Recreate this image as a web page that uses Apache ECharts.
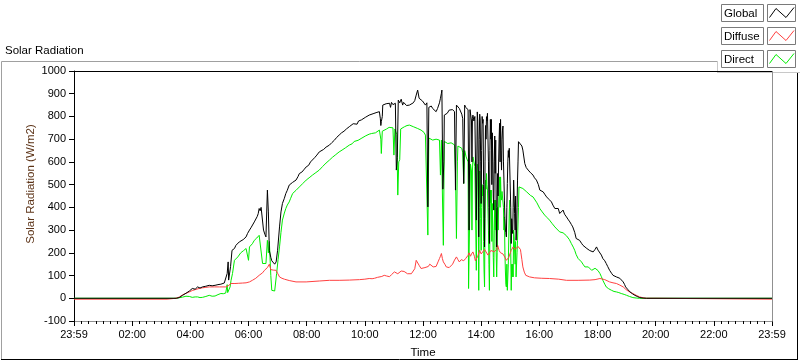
<!DOCTYPE html>
<html><head><meta charset="utf-8">
<script src="https://cdn.jsdelivr.net/npm/echarts@6/dist/echarts.min.js"></script>
<style>html,body{margin:0;padding:0;background:#fff}#c{width:800px;height:361px}</style>
</head><body><div id="c"></div><script>
// minutes since 00:00 ; axis runs 23:59 (prev day) .. 23:59
const xTickLabels = ['23:59','02:00','04:00','06:00','08:00','10:00','12:00','14:00','16:00','18:00','20:00','22:00','23:59'];
const seriesNames = ['Global','Diffuse','Direct'];
const globalData = [[0,0],[211,0],[217,3],[224,13],[228,20],[231,22],[235,30],[238,32],[241,38],[244,43],[247,38],[250,40],[253,48],[255,50],[258,44],[260,45],[263,52],[265,50],[268,55],[272,53],[276,58],[279,57],[285,55],[291,57],[297,60],[303,62],[307,64],[310,67],[314,70],[316,109],[318,160],[319,80],[321,75],[323,140],[326,211],[329,205],[331,219],[334,233],[337,228],[341,248],[345,245],[349,258],[352,255],[355,270],[358,285],[362,300],[365,310],[368,318],[372,336],[375,340],[378,360],[380,372],[382,395],[384,385],[386,400],[389,402],[391,300],[394,280],[396,270],[399,476],[401,380],[403,211],[406,180],[408,165],[411,160],[414,150],[417,160],[420,211],[424,314],[427,380],[430,417],[434,440],[437,461],[440,475],[444,498],[447,495],[451,510],[454,512],[458,520],[462,535],[465,549],[470,555],[474,565],[479,578],[484,585],[488,600],[492,608],[497,620],[501,630],[506,644],[510,648],[515,655],[520,665],[527,674],[532,685],[537,695],[542,708],[547,718],[552,728],[557,735],[562,745],[568,755],[572,758],[576,768],[580,770],[584,766],[587,780],[589,777],[593,785],[597,788],[601,796],[605,800],[609,806],[613,802],[617,812],[621,810],[625,818],[628,815],[630,821],[632,790],[633,760],[634,777],[636,800],[637,850],[640,842],[644,856],[647,850],[651,858],[653,840],[655,862],[658,852],[660,850],[663,858],[665,564],[667,620],[669,872],[672,860],[675,876],[678,850],[680,862],[682,860],[686,848],[689,855],[692,850],[696,858],[700,860],[703,870],[706,894],[709,916],[712,880],[714,885],[716,872],[719,868],[722,866],[725,850],[728,860],[730,402],[732,840],[735,845],[737,846],[740,835],[744,830],[747,821],[750,835],[754,860],[756,880],[758,902],[759,916],[761,480],[763,600],[764,806],[767,810],[770,814],[774,828],[778,824],[781,830],[785,821],[787,476],[789,850],[792,845],[795,835],[798,830],[800,810],[802,790],[804,505],[806,850],[808,840],[810,845],[813,830],[815,300],[817,830],[820,780],[821,600],[822,790],[823,806],[825,780],[827,800],[830,344],[832,820],[833,780],[834,600],[835,270],[836,700],[837,810],[838,784],[839,600],[840,417],[841,650],[842,800],[843,770],[844,787],[845,500],[846,350],[847,226],[848,600],[849,760],[850,700],[851,799],[852,780],[853,814],[854,810],[855,600],[856,400],[857,241],[858,650],[859,787],[860,700],[861,787],[862,500],[863,728],[864,600],[865,450],[866,388],[867,600],[868,714],[869,550],[870,696],[871,400],[872,226],[873,400],[874,549],[875,450],[876,600],[877,700],[878,770],[879,600],[880,787],[881,650],[882,564],[883,700],[884,740],[885,758],[886,600],[887,520],[888,432],[889,350],[890,300],[891,289],[892,270],[893,400],[894,505],[895,600],[896,650],[897,620],[898,660],[899,652],[900,667],[901,400],[902,241],[903,350],[904,300],[905,285],[906,400],[907,520],[908,450],[909,373],[910,300],[911,450],[912,255],[913,300],[914,400],[915,520],[916,600],[917,689],[918,689],[921,690],[924,670],[926,652],[930,593],[933,575],[937,564],[942,552],[947,542],[950,530],[954,520],[958,500],[961,476],[965,472],[968,468],[972,455],[975,446],[980,435],[985,424],[988,410],[992,395],[996,398],[999,395],[1002,373],[1005,380],[1009,388],[1012,370],[1016,358],[1020,345],[1023,336],[1026,325],[1029,314],[1033,290],[1036,263],[1040,260],[1043,255],[1047,242],[1050,233],[1054,225],[1058,219],[1061,214],[1064,210],[1068,206],[1071,204],[1075,215],[1078,226],[1081,212],[1085,204],[1088,190],[1091,175],[1095,165],[1098,153],[1101,140],[1105,123],[1109,110],[1112,101],[1116,96],[1119,94],[1123,92],[1126,88],[1130,80],[1133,72],[1136,60],[1138,50],[1142,40],[1147,28],[1152,20],[1157,13],[1162,8],[1167,3],[1174,1],[1181,0],[1440,0]];
const diffuseData = [[0,-4],[192,-4],[193,0],[210,0],[217,5],[224,15],[231,22],[238,28],[244,34],[250,38],[258,43],[265,46],[272,48],[279,50],[290,50],[300,50],[313,50],[318,55],[324,65],[332,65],[340,66],[348,67],[355,68],[362,72],[368,79],[375,88],[382,101],[389,112],[393,123],[399,135],[403,150],[406,126],[411,124],[417,123],[420,110],[424,94],[429,88],[434,84],[444,78],[458,72],[479,72],[506,76],[527,79],[547,79],[568,80],[589,82],[600,84],[609,87],[615,86],[620,88],[626,92],[630,90],[635,96],[640,101],[645,98],[651,95],[655,104],[658,112],[661,116],[664,110],[668,108],[672,114],[675,120],[678,126],[681,118],[685,110],[688,108],[692,105],[696,108],[700,105],[703,130],[706,167],[709,160],[712,145],[716,131],[720,128],[724,135],[727,130],[731,140],[734,150],[737,145],[741,138],[744,146],[747,140],[751,160],[754,175],[756,185],[758,197],[760,175],[762,160],[765,150],[768,138],[771,132],[774,135],[778,140],[781,150],[785,168],[789,182],[792,170],[795,160],[799,170],[804,165],[808,175],[813,189],[815,200],[818,185],[820,195],[823,204],[826,185],[828,165],[830,160],[833,185],[837,211],[840,195],[844,200],[847,215],[851,211],[854,190],[857,200],[860,210],[864,215],[867,205],[870,200],[872,215],[874,233],[877,210],[880,200],[883,205],[885,195],[889,180],[892,167],[895,175],[897,180],[900,200],[902,211],[904,205],[906,226],[910,215],[913,220],[916,228],[919,233],[921,215],[922,200],[924,170],[926,138],[929,115],[932,101],[936,96],[940,94],[950,90],[965,88],[981,87],[1000,84],[1016,79],[1040,79],[1064,80],[1075,82],[1085,87],[1095,82],[1105,72],[1112,68],[1119,65],[1126,58],[1133,50],[1138,40],[1143,32],[1148,26],[1153,21],[1160,13],[1167,6],[1174,2],[1181,0],[1200,0],[1201,-4],[1440,-4]];
const directData = [[0,0],[211,0],[224,5],[231,9],[238,8],[244,4],[250,6],[255,6],[260,3],[265,4],[272,8],[279,13],[285,9],[291,10],[297,16],[303,21],[308,20],[313,23],[316,60],[317,25],[320,20],[322,50],[324,79],[327,109],[331,167],[334,175],[338,182],[341,190],[344,200],[350,210],[355,219],[358,212],[360,167],[362,226],[365,232],[368,240],[372,255],[377,265],[382,277],[386,285],[389,153],[393,150],[396,153],[399,255],[401,200],[403,250],[406,100],[408,35],[411,35],[414,32],[417,35],[418,109],[421,170],[424,226],[427,290],[430,344],[434,375],[437,395],[440,410],[444,424],[447,440],[451,461],[454,468],[458,475],[462,483],[465,490],[472,505],[479,520],[485,530],[492,542],[499,553],[506,564],[513,580],[520,595],[527,608],[533,620],[540,632],[547,644],[553,652],[560,662],[568,674],[574,680],[578,690],[582,686],[586,695],[589,696],[594,705],[598,708],[602,715],[606,712],[609,722],[614,725],[618,730],[622,728],[626,735],[630,740],[633,700],[634,637],[636,735],[640,740],[645,745],[650,752],[654,755],[658,750],[660,630],[662,745],[666,720],[668,454],[670,600],[672,610],[674,745],[678,750],[682,755],[687,760],[692,762],[696,758],[700,755],[704,752],[709,747],[712,745],[716,740],[719,735],[722,730],[725,718],[727,711],[730,278],[732,705],[736,700],[740,696],[744,702],[747,700],[751,698],[754,696],[756,542],[758,696],[760,690],[762,233],[764,690],[767,685],[771,681],[775,686],[778,684],[782,678],[785,675],[787,560],[789,263],[791,600],[792,670],[796,665],[800,660],[802,640],[804,505],[806,650],[809,622],[811,630],[813,600],[814,43],[816,50],[818,590],[820,560],[821,300],[822,560],[823,622],[825,600],[827,580],[830,123],[832,590],[834,560],[835,35],[836,400],[837,560],[838,534],[839,350],[840,211],[841,400],[842,500],[843,450],[844,490],[845,250],[846,120],[847,50],[848,350],[849,520],[850,480],[851,549],[852,500],[853,476],[854,476],[855,300],[856,150],[857,35],[858,300],[859,476],[860,420],[861,476],[862,250],[863,417],[864,300],[865,180],[866,94],[867,300],[868,432],[869,300],[870,432],[871,200],[872,94],[873,200],[874,402],[875,300],[876,402],[877,480],[878,534],[879,400],[880,534],[881,450],[882,432],[883,470],[884,476],[885,476],[886,400],[887,300],[888,358],[889,200],[890,120],[891,60],[892,50],[893,150],[894,35],[895,35],[896,150],[897,270],[898,380],[899,432],[900,432],[901,200],[902,35],[903,150],[904,94],[905,150],[906,94],[907,300],[908,270],[909,270],[910,150],[911,250],[912,94],[913,94],[914,200],[915,255],[916,255],[917,400],[918,490],[922,486],[926,483],[930,476],[934,468],[937,461],[942,452],[947,446],[950,439],[955,420],[961,395],[966,380],[971,366],[976,355],[981,344],[986,330],[992,314],[996,305],[999,300],[1002,292],[1005,285],[1009,288],[1012,285],[1016,275],[1019,270],[1022,258],[1026,241],[1030,225],[1033,211],[1036,192],[1040,175],[1043,168],[1047,160],[1050,150],[1054,138],[1058,140],[1061,138],[1064,130],[1068,123],[1072,128],[1075,132],[1078,135],[1081,122],[1085,109],[1088,95],[1091,79],[1095,62],[1098,50],[1103,42],[1109,35],[1114,30],[1119,28],[1124,25],[1129,21],[1135,17],[1140,13],[1146,8],[1153,3],[1160,1],[1167,0],[1440,0]];
const seriesColors = ['#000000','#ff4040','#00ee00'];

const FONT = '"Liberation Sans", Arial, sans-serif';
const chart = echarts.init(document.getElementById('c'), null, {renderer:'canvas'});

function legendItem(i, top){
  const c = seriesColors[i];
  return [
    {type:'rect', shape:{x:721.5,y:top+0.5,width:42,height:17}, style:{fill:'#fff',stroke:'#7a7a7a',lineWidth:1}, z:10},
    {type:'text', x:724, y:top+9.5, style:{text:seriesNames[i], font:'11.5px '+FONT, fill:'#000', align:'left', verticalAlign:'middle'}, z:11},
    {type:'rect', shape:{x:767.5,y:top+0.5,width:28,height:17}, style:{fill:'#fff',stroke:'#7a7a7a',lineWidth:1}, z:10},
    {type:'polyline', shape:{points:[[769.5,top+13.5],[776,top+4.5],[786,top+13.5],[794,top+3.5]]}, style:{stroke:c,lineWidth:1,fill:null}, z:11}
  ];
}

const graphics = [
  {type:'line', shape:{x1:1.5,y1:61.5,x2:717,y2:61.5}, style:{stroke:'#a0a0a0',lineWidth:1}},
  {type:'line', shape:{x1:1.5,y1:61.5,x2:1.5,y2:359.5}, style:{stroke:'#a0a0a0',lineWidth:1}},
  {type:'line', shape:{x1:1,y1:359.5,x2:798,y2:359.5}, style:{stroke:'#000',lineWidth:1}},
  {type:'line', shape:{x1:797.5,y1:72,x2:797.5,y2:360}, style:{stroke:'#000',lineWidth:1}},
  {type:'line', shape:{x1:717.5,y1:61,x2:717.5,y2:72}, style:{stroke:'#c8c8c8',lineWidth:1}},
  {type:'line', shape:{x1:717,y1:72.5,x2:800,y2:72.5}, style:{stroke:'#c8c8c8',lineWidth:1}},
  {type:'line', shape:{x1:74,y1:71.5,x2:772,y2:71.5}, style:{stroke:'#000',lineWidth:1}, z:5},
  {type:'line', shape:{x1:772.5,y1:71,x2:772.5,y2:321.5}, style:{stroke:'#909090',lineWidth:1}, z:5},
  {type:'text', x:5, y:51, style:{text:'Solar Radiation', font:'11.5px '+FONT, fill:'#000', align:'left', verticalAlign:'middle'}},
  {type:'text', x:31, y:184, rotation:Math.PI/2, style:{text:'Solar Radiation (W/m2)', font:'11.5px '+FONT, fill:'#5c3317', align:'center', verticalAlign:'middle'}}
].concat(legendItem(0,4), legendItem(1,27), legendItem(2,50));

const option = {
  animation:false,
  backgroundColor:'#fff',
  grid:{left:74, right:28, top:71, bottom:40, containLabel:false, outerBoundsMode:'none'},
  xAxis:{
    type:'value', min:0, max:1440, interval:120,
    name:'Time', nameLocation:'middle', nameGap:26,
    nameTextStyle:{fontFamily:FONT, fontSize:11.5, color:'#000'},
    axisLine:{show:true, onZero:false, lineStyle:{color:'#909090', width:1}},
    axisTick:{show:true, length:5, lineStyle:{color:'#000'}},
    minorTick:{show:true, splitNumber:8, length:3, lineStyle:{color:'#000'}},
    splitLine:{show:false},
    axisLabel:{margin:8, fontFamily:FONT, fontSize:11, color:'#000',
      formatter:(v)=>xTickLabels[Math.round(v/120)]}
  },
  yAxis:{
    type:'value', min:-100, max:1000, interval:100,
    axisLine:{show:true, onZero:false, lineStyle:{color:'#000', width:1}},
    axisTick:{show:true, length:5, lineStyle:{color:'#000'}},
    splitLine:{show:false},
    axisLabel:{margin:8, fontFamily:FONT, fontSize:11, color:'#000', formatter:(v)=>String(v)}
  },
  graphic:graphics,
  series:[
    {name:'Direct', type:'line', data:directData, showSymbol:false, symbol:'none', lineStyle:{color:seriesColors[2], width:1}, z:2},
    {name:'Diffuse', type:'line', data:diffuseData, showSymbol:false, symbol:'none', lineStyle:{color:seriesColors[1], width:1}, z:3},
    {name:'Global', type:'line', data:globalData, showSymbol:false, symbol:'none', lineStyle:{color:seriesColors[0], width:1}, z:4}
  ]
};
chart.setOption(option);
</script></body></html>
